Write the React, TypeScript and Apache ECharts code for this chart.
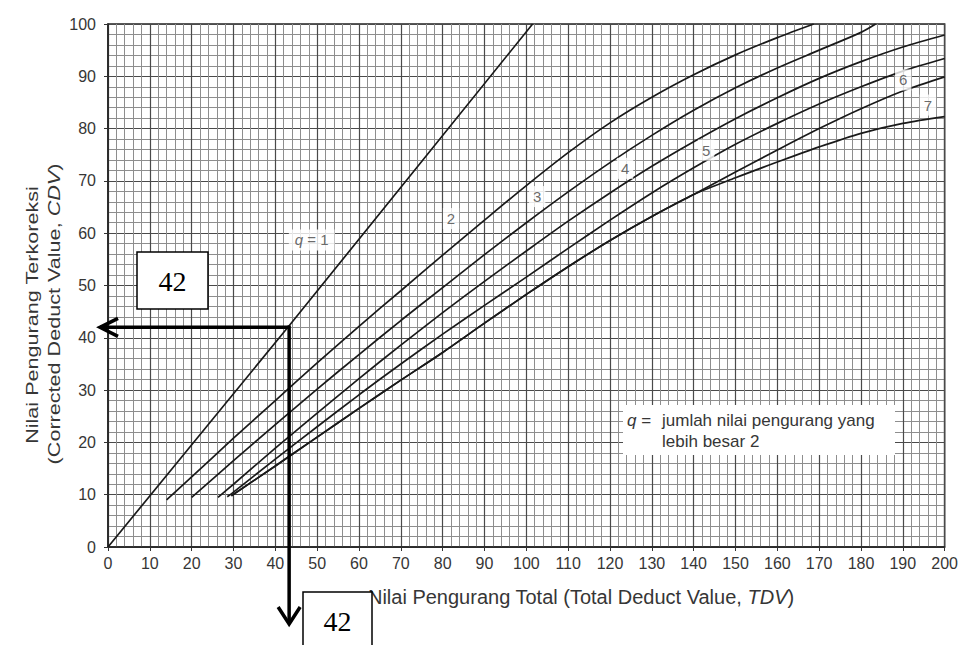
import React, { useEffect, useRef } from "react";
import * as echarts from "echarts";

// Curves of the Corrected Deduct Value chart: [TDV, CDV] pairs
const q1 = [[0, 0], [43.3, 42.3], [101.5, 100]];
const q2 = [[14, 9], [20, 13.4], [30, 20.8], [40, 28], [50, 35.2], [60, 42.2], [70, 49], [80, 55.8], [90, 62.5], [100, 69.1], [110, 75.4], [120, 81.1], [130, 86], [140, 90.3], [150, 94.1], [160, 97.4], [168.7, 100]];
const q3 = [[20, 9.5], [30, 16.5], [40, 23.4], [50, 30.2], [60, 36.8], [70, 43.3], [80, 49.6], [90, 55.9], [100, 62], [110, 67.9], [120, 73.5], [130, 78.7], [140, 83.5], [150, 87.8], [160, 91.6], [170, 95], [180, 98.4], [183.5, 100]];
const q4 = [[26.3, 9.5], [30, 12], [40, 18.9], [50, 25.6], [60, 32.2], [70, 38.6], [80, 44.8], [90, 50.8], [100, 56.6], [110, 62.3], [120, 67.7], [130, 72.8], [140, 77.5], [150, 81.9], [160, 85.9], [170, 89.6], [180, 92.8], [190, 95.6], [200, 97.9]];
const q5 = [[28.5, 9.6], [30, 10.5], [40, 16.8], [50, 23], [60, 29.1], [70, 35], [80, 40.7], [90, 46.2], [100, 51.6], [110, 57.1], [120, 62.5], [130, 67.7], [140, 72.5], [150, 77], [160, 81], [170, 84.7], [180, 88], [190, 91], [200, 93.4]];
const q6 = [[29.5, 9.8], [40, 15.5], [50, 21], [60, 26.5], [70, 31.9], [80, 37.2], [90, 42.8], [100, 48.3], [110, 53.6], [120, 58.6], [130, 63.2], [140, 67.4], [150, 71.7], [160, 75.9], [170, 80], [180, 83.8], [190, 87.2], [200, 89.9]];
const q7 = [[29.5, 9.8], [40, 15.5], [50, 21], [60, 26.5], [70, 31.9], [80, 37.2], [90, 42.8], [100, 48.3], [110, 53.6], [120, 58.6], [130, 63.2], [140, 67.4], [150, 70.6], [160, 73.6], [170, 76.5], [180, 79.1], [190, 81], [200, 82.3]];

// Curve labels (q values) and where they sit on the chart
const curveLabelText = ["2", "3", "4", "5", "6", "7"];
const curveLabelPos = [[82.0, 62.8], [102.6, 67.0], [123.6, 72.4], [143.0, 75.9], [190.1, 89.3], [196.0, 84.5]];
const qOneLabelPos = [48.7, 58.7];

// Reading shown by the arrows
const readTDV = 43.3;
const readCDV = 42;
const readText = "42";

const xTitle = ["Nilai Pengurang Total (Total Deduct Value, ", "TDV", ")"];
const yTitle1 = "Nilai Pengurang Terkoreksi";
const yTitle2 = ["(Corrected Deduct Value, ", "CDV", ")"];
const noteLine1 = "jumlah nilai pengurang yang";
const noteLine2 = "lebih besar 2";

export default function App() {
  const ref = useRef<HTMLDivElement>(null);
  useEffect(() => {
    const chart = echarts.init(ref.current!, null, { renderer: "svg" });
    const font = "'Liberation Sans', Arial, sans-serif";
    const serif = "'Liberation Serif', 'Times New Roman', serif";
    const textColor = "#363636";
    const curves = [q1, q2, q3, q4, q5, q6, q7];
    const gridLeft = 108, gridRight = 11, gridTop = 24, gridBottom = 98;

    const axisCommon = {
      type: "value" as const,
      axisLine: { show: true, onZero: false, lineStyle: { color: "#222", width: 1.5 } },
      axisTick: { show: true, length: 4, lineStyle: { color: "#333", width: 1 } },
      axisLabel: { fontSize: 16, color: textColor, fontFamily: font },
      splitLine: { show: true, lineStyle: { color: "#4a4a4a", width: 1.2 } },
      minorTick: { show: false, splitNumber: 5 },
      minorSplitLine: { show: true, lineStyle: { color: "#8e8e8e", width: 1 } },
    };

    const lineSeries = curves.map((d, i) => ({
      type: "line",
      name: "q" + (i + 1),
      data: d,
      smooth: i === 0 ? false : 0.3,
      symbol: "none",
      showSymbol: false,
      silent: true,
      lineStyle: { color: "#1a1a1a", width: 1.7 },
      z: 3,
    }));

    const labelSeries = {
      type: "scatter",
      silent: true,
      symbolSize: 1,
      itemStyle: { color: "rgba(0,0,0,0)" },
      z: 6,
      data: [
        ...curveLabelPos.map((p, i) => ({ value: p, name: curveLabelText[i] })),
        {
          value: qOneLabelPos,
          name: "q1",
          label: { formatter: "{i|q} = 1", padding: [3, 6] },
        },
      ],
      label: {
        show: true,
        position: "inside",
        formatter: "{b}",
        color: "#444",
        fontSize: 15,
        fontFamily: font,
        backgroundColor: "#fff",
        padding: [3, 4],
        rich: { i: { fontStyle: "italic", fontSize: 15, color: "#444", fontFamily: font } },
      },
    };

    chart.setOption({
      animation: false,
      backgroundColor: "#fff",
      grid: { left: gridLeft, right: gridRight, top: gridTop, bottom: gridBottom, show: true, borderColor: "#222", borderWidth: 1.5, backgroundColor: "#fff" },
      xAxis: { ...axisCommon, min: 0, max: 200, interval: 10, axisLabel: { ...axisCommon.axisLabel, margin: 8 } },
      yAxis: { ...axisCommon, min: 0, max: 100, interval: 10, axisLabel: { ...axisCommon.axisLabel, margin: 12 } },
      series: [...lineSeries, labelSeries],
    });

    const corner = chart.convertToPixel({ gridIndex: 0 }, [readTDV, readCDV]) as number[];
    const axisY = chart.convertToPixel({ gridIndex: 0 }, [0, 0]) as number[];
    const cx = corner[0], cy = corner[1];
    const tipX = gridLeft - 8;
    const tipY = axisY[1] + 77;
    const arrowStyle = { stroke: "#000", lineWidth: 3.5, fill: null };

    chart.setOption({
      graphic: [
        // axis titles
        {
          type: "text", x: 33, y: 315, rotation: Math.PI / 2, scaleX: 1.35, z: 4,
          style: { text: yTitle1, font: `16px ${font}`, fill: textColor, align: "center", verticalAlign: "middle" },
        },
        {
          type: "text", x: 55, y: 314, rotation: Math.PI / 2, scaleX: 1.35, z: 4,
          style: {
            text: `{n|${yTitle2[0]}}{i|${yTitle2[1]}}{n|${yTitle2[2]}}`,
            align: "center", verticalAlign: "middle",
            rich: {
              n: { fontSize: 16, fontFamily: font, fill: textColor },
              i: { fontSize: 16, fontFamily: font, fill: textColor, fontStyle: "italic" },
            },
          },
        },
        {
          type: "text", x: 581, y: 597, z: 4,
          style: {
            text: `{n|${xTitle[0]}}{i|${xTitle[1]}}{n|${xTitle[2]}}`,
            align: "center", verticalAlign: "middle",
            rich: {
              n: { fontSize: 20, fontFamily: font, fill: textColor },
              i: { fontSize: 20, fontFamily: font, fill: textColor, fontStyle: "italic" },
            },
          },
        },
        // note box
        { type: "rect", shape: { x: 623, y: 405, width: 272, height: 50 }, style: { fill: "#fff" }, z: 5 },
        {
          type: "text", x: 627, y: 420, z: 6,
          style: {
            text: "{i|q} =", verticalAlign: "middle",
            rich: {
              i: { fontSize: 17, fontFamily: font, fill: textColor, fontStyle: "italic" },
            },
            font: `17px ${font}`, fill: textColor,
          },
        },
        { type: "text", x: 662, y: 420, z: 6, style: { text: noteLine1, font: `17px ${font}`, fill: textColor, verticalAlign: "middle" } },
        { type: "text", x: 662, y: 441, z: 6, style: { text: noteLine2, font: `17px ${font}`, fill: textColor, verticalAlign: "middle" } },
        // arrows
        { type: "line", z: 10, shape: { x1: cx, y1: cy, x2: tipX, y2: cy }, style: arrowStyle },
        { type: "polyline", z: 10, shape: { points: [[tipX + 18, cy - 9], [tipX, cy], [tipX + 18, cy + 9]] }, style: arrowStyle },
        { type: "line", z: 10, shape: { x1: cx, y1: cy - 1.75, x2: cx, y2: tipY }, style: arrowStyle },
        { type: "polyline", z: 10, shape: { points: [[cx - 11, tipY - 17], [cx, tipY], [cx + 11, tipY - 17]] }, style: arrowStyle },
        // value boxes
        { type: "rect", z: 11, shape: { x: 137, y: 252, width: 71, height: 57 }, style: { fill: "#fff", stroke: "#000", lineWidth: 1.5 } },
        { type: "text", z: 12, x: 172.5, y: 281, style: { text: readText, font: `28px ${serif}`, fill: "#000", align: "center", verticalAlign: "middle" } },
        { type: "rect", z: 11, shape: { x: 303, y: 592, width: 69, height: 70 }, style: { fill: "#fff", stroke: "#000", lineWidth: 1.5 } },
        { type: "text", z: 12, x: 337.5, y: 621, style: { text: readText, font: `28px ${serif}`, fill: "#000", align: "center", verticalAlign: "middle" } },
      ],
    });

    return () => chart.dispose();
  }, []);

  return <div ref={ref} style={{ position: "fixed", left: 0, top: 0, width: 961, height: 645 }} />;
}
